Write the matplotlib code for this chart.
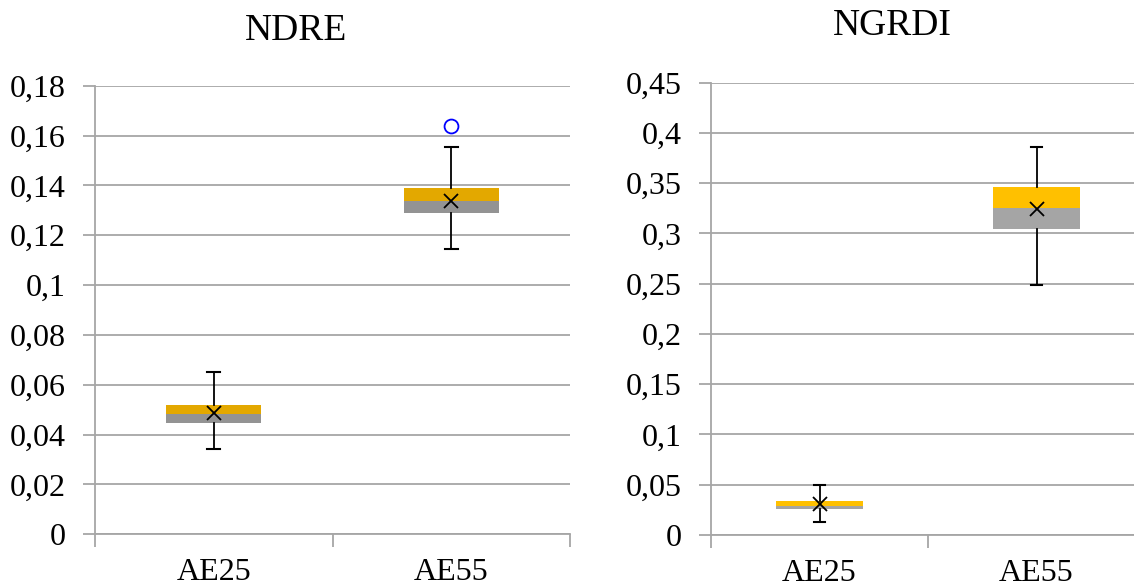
import matplotlib
matplotlib.use("Agg")
import matplotlib.pyplot as plt

plt.rcParams['font.family'] = ['Liberation Serif', 'DejaVu Serif']

categories = ["AE25", "AE55"]

# NDRE statistics
ndre_wlo = [0.0341, 0.1146]
ndre_q1 = [0.0445, 0.1290]
ndre_med = [0.0482, 0.1337]
ndre_q3 = [0.0519, 0.1388]
ndre_whi = [0.0651, 0.1555]
ndre_mean = [0.0487, 0.1339]
ndre_out_cat = [1]
ndre_out_val = [0.164]
ndre_ticks = [0, 0.02, 0.04, 0.06, 0.08, 0.10, 0.12, 0.14, 0.16, 0.18]
ndre_ticklabels = ["0", "0,02", "0,04", "0,06", "0,08", "0,1", "0,12", "0,14", "0,16", "0,18"]

# NGRDI statistics
ngrdi_wlo = [0.0126, 0.2488]
ngrdi_q1 = [0.0259, 0.3042]
ngrdi_med = [0.0289, 0.3250]
ngrdi_q3 = [0.0338, 0.3463]
ngrdi_whi = [0.0497, 0.3858]
ngrdi_mean = [0.0305, 0.3244]
ngrdi_ticks = [0, 0.05, 0.10, 0.15, 0.20, 0.25, 0.30, 0.35, 0.40, 0.45]
ngrdi_ticklabels = ["0", "0,05", "0,1", "0,15", "0,2", "0,25", "0,3", "0,35", "0,4", "0,45"]

fig = plt.figure(figsize=(11.34, 5.85), dpi=100)
axL = fig.add_axes([95/1134, 1-534.3/585, (570-95)/1134, (534.3-85.7)/585])
axR = fig.add_axes([711/1134, 1-535/585, (1145-711)/1134, (535-82.7)/585])

GRID = "#A6A6A6"


def draw(ax, wlo, q1, med, q3, whi, mean, ticks, ticklabels, ymax, ycol, gcol):
    x = list(range(len(categories)))
    ax.set_xlim(-0.5, len(categories) - 0.5)
    ax.set_ylim(0, ymax)
    w = 0.4
    for i in x:
        ax.bar(i, med[i] - q1[i], bottom=q1[i], width=w, color=gcol, zorder=3)
        ax.bar(i, q3[i] - med[i], bottom=med[i], width=w, color=ycol, zorder=3)
        ax.plot([i, i], [wlo[i], q1[i]], color="black", lw=1.3, zorder=4)
        ax.plot([i, i], [q3[i], whi[i]], color="black", lw=1.3, zorder=4)
        for v in (wlo[i], whi[i]):
            ax.plot([i - 0.027, i + 0.027], [v, v], color="black", lw=1.5, zorder=4)
        ax.plot(i, mean[i], marker="x", color="black", ms=10, mew=1.3, zorder=5)
    ax.set_yticks(ticks)
    ax.set_yticklabels(ticklabels)
    ax.set_xticks(x)
    ax.set_xticklabels(categories)
    ax.set_xticks([-0.5, 0.5, 1.5], minor=True)
    ax.tick_params(axis="x", which="major", length=0, pad=17, labelsize=23)
    ax.tick_params(axis="x", which="minor", length=9, width=1.3, color=GRID)
    ax.tick_params(axis="y", length=9, width=1.3, color=GRID, pad=12, labelsize=23)
    ax.grid(axis="y", color=GRID, lw=1.3, zorder=0)
    ax.set_axisbelow(True)
    for s in ("top", "right"):
        ax.spines[s].set_visible(False)
    for s in ("left", "bottom"):
        ax.spines[s].set_color(GRID)
        ax.spines[s].set_linewidth(1.3)


draw(axL, ndre_wlo, ndre_q1, ndre_med, ndre_q3, ndre_whi, ndre_mean,
     ndre_ticks, ndre_ticklabels, 0.18, "#E3A800", "#939393")
axL.plot(ndre_out_cat, ndre_out_val, marker="o", ls="none", mfc="none",
         mec="#0000FF", ms=10, mew=1.3, zorder=5)
draw(axR, ngrdi_wlo, ngrdi_q1, ngrdi_med, ngrdi_q3, ngrdi_whi, ngrdi_mean,
     ngrdi_ticks, ngrdi_ticklabels, 0.45, "#FFC000", "#A5A5A5")

fig.text(296/1134, 1-31/585, "NDRE", ha="center", va="center", fontsize=27)
fig.text(892/1134, 1-26/585, "NGRDI", ha="center", va="center", fontsize=27)

fig.savefig("out.png", dpi=100)
